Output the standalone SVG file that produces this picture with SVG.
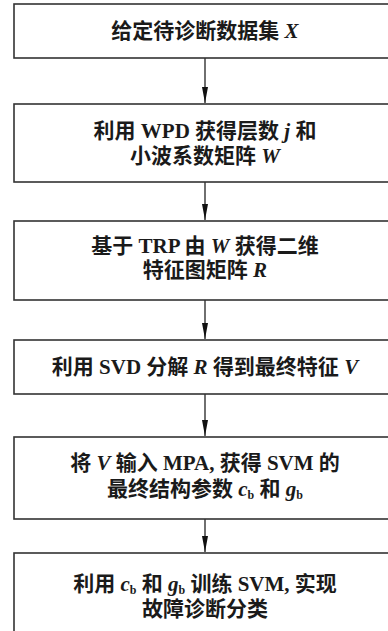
<svg xmlns="http://www.w3.org/2000/svg" width="388" height="631" viewBox="0 0 388 631">
<style>
.box{fill:#fff;stroke:#333;stroke-width:1.6}
.t{font-family:"Liberation Serif","Noto Sans CJK SC",serif;font-weight:bold;font-size:21px;fill:#1a1a1a;text-anchor:middle}
.i{font-style:italic}
.s{font-size:12px}
.c{stroke:#222;stroke-width:1.3;fill:none;marker-end:url(#ah)}
</style>
<defs>
<marker id="ah" markerWidth="16" markerHeight="6" refX="16" refY="3" orient="auto" markerUnits="userSpaceOnUse" viewBox="0 0 16 6">
<path d="M0,0 L16,3 L0,6 Z" fill="#111"/>
</marker>
</defs>
<rect width="388" height="631" fill="#fff"/>
<g id="connectors">
<line class="c" x1="205" y1="58" x2="205" y2="103"/>
<line class="c" x1="205" y1="182" x2="205" y2="220"/>
<line class="c" x1="205" y1="300" x2="205" y2="339"/>
<line class="c" x1="205" y1="394" x2="205" y2="436"/>
<line class="c" x1="205" y1="519" x2="205" y2="552"/>
</g>
<g id="n1">
<rect class="box" x="14" y="4" width="384" height="54"/>
<text class="t" x="205" y="38">给定待诊断数据集 <tspan class="i">X</tspan></text>
</g>
<g id="n2">
<rect class="box" x="14" y="104" width="384" height="78"/>
<text class="t" x="205" y="138">利用 WPD 获得层数 <tspan class="i">j</tspan> 和</text>
<text class="t" x="205" y="163">小波系数矩阵 <tspan class="i">W</tspan></text>
</g>
<g id="n3">
<rect class="box" x="14" y="221" width="384" height="79"/>
<text class="t" x="205" y="253">基于 TRP 由 <tspan class="i">W</tspan> 获得二维</text>
<text class="t" x="205" y="277">特征图矩阵 <tspan class="i">R</tspan></text>
</g>
<g id="n4">
<rect class="box" x="14" y="340" width="384" height="54"/>
<text class="t" x="205" y="374">利用 SVD 分解 <tspan class="i">R</tspan> 得到最终特征 <tspan class="i">V</tspan></text>
</g>
<g id="n5">
<rect class="box" x="14" y="437" width="384" height="82"/>
<text class="t" x="205" y="470"><tspan>将 </tspan><tspan class="i">V</tspan><tspan> 输入 MPA, 获得 SVM 的</tspan></text>
<text class="t" x="205" y="496">最终结构参数 <tspan class="i">c</tspan><tspan class="s" dy="3">b</tspan><tspan dy="-3"> 和 </tspan><tspan class="i">g</tspan><tspan class="s" dy="3">b</tspan></text>
</g>
<g id="n6">
<rect class="box" x="14" y="553" width="384" height="90"/>
<text class="t" x="205" y="591">利用 <tspan class="i">c</tspan><tspan class="s" dy="3">b</tspan><tspan dy="-3"> 和 </tspan><tspan class="i">g</tspan><tspan class="s" dy="3">b</tspan><tspan dy="-3"> 训练 SVM, 实现</tspan></text>
<text class="t" x="205" y="616">故障诊断分类</text>
</g>
</svg>
